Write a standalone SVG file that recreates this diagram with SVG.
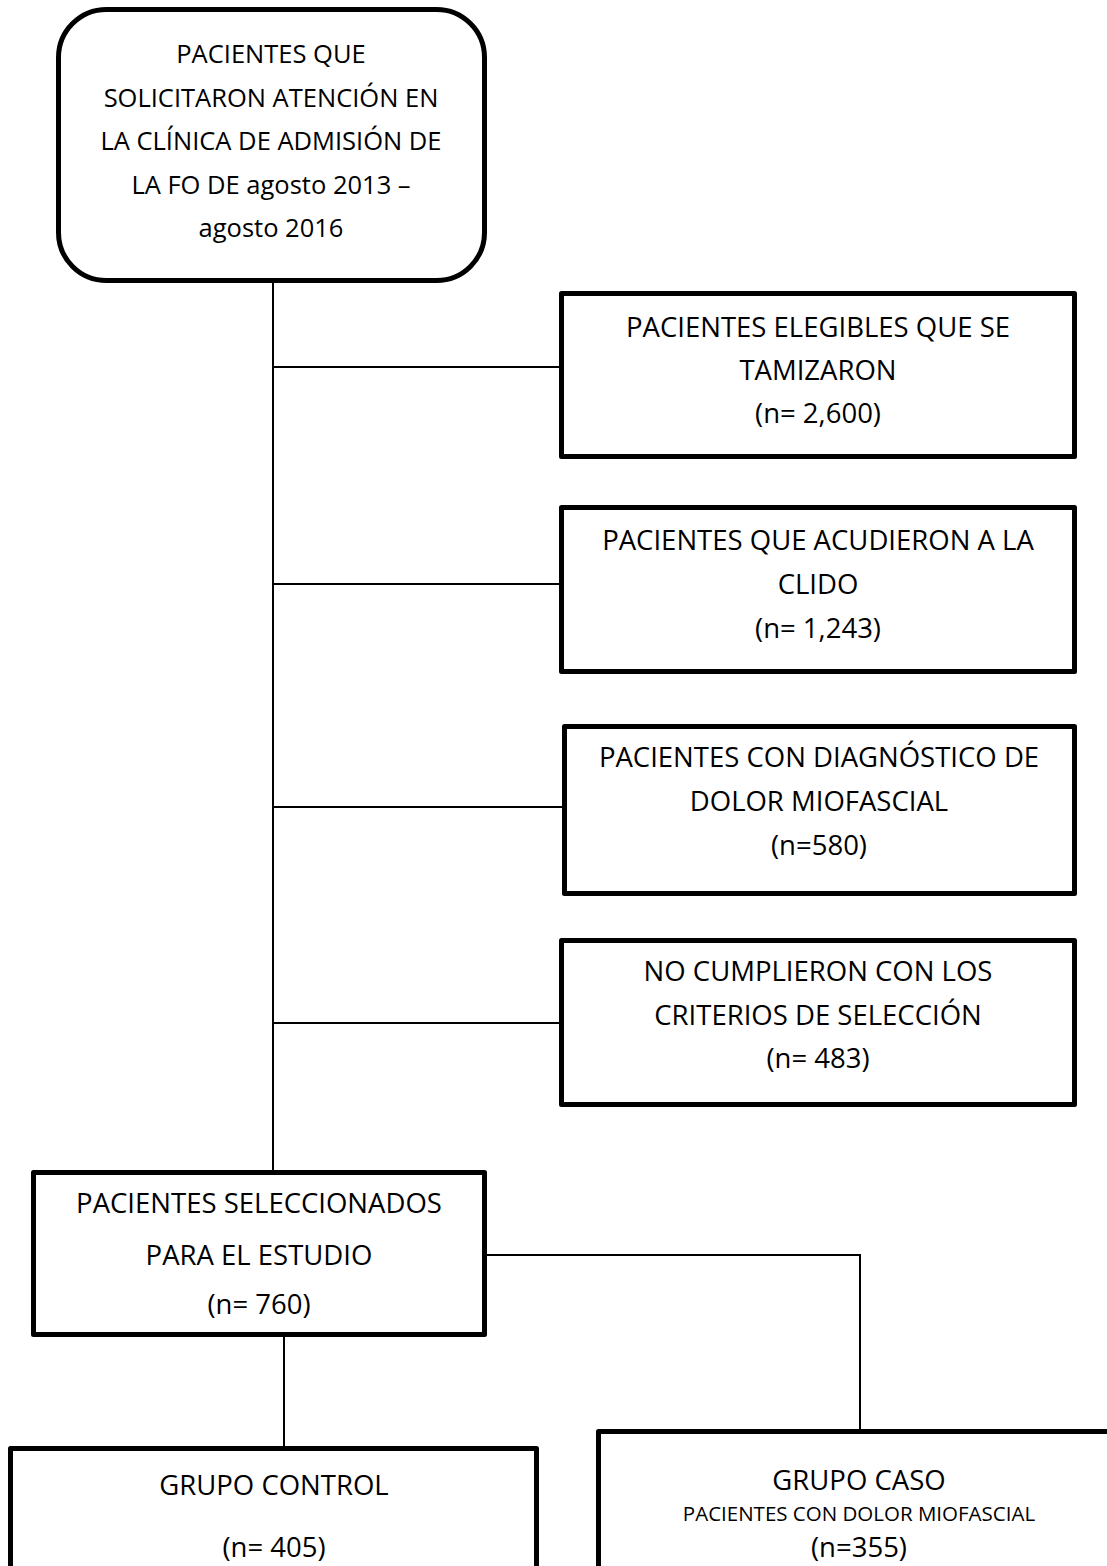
<svg xmlns="http://www.w3.org/2000/svg" width="1107" height="1566" viewBox="0 0 1107 1566">
<style>
.box{fill:#fff;stroke:#000;stroke-width:5;stroke-linejoin:round}
.ln{fill:none;stroke:#000;stroke-width:2}
text{font-family:"Open Sans","Noto Sans",sans-serif;fill:#000;text-anchor:middle}
.t{font-size:27.5px}
.t0{font-size:25.5px}
.ts{font-size:20.5px}
</style>
<rect width="1107" height="1566" fill="#fff"/>
<g id="connectors">
<line class="ln" x1="273" y1="283" x2="273" y2="1170"/>
<line class="ln" x1="273" y1="367" x2="561" y2="367"/>
<line class="ln" x1="273" y1="584" x2="561" y2="584"/>
<line class="ln" x1="273" y1="807" x2="564" y2="807"/>
<line class="ln" x1="273" y1="1023" x2="561" y2="1023"/>
<polyline class="ln" points="484,1255 860,1255 860,1430"/>
<line class="ln" x1="284" y1="1337" x2="284" y2="1446"/>
</g>
<g id="n-start">
<rect class="box" x="58.5" y="9.5" width="426" height="271" rx="48" ry="48"/>
<text class="t0" x="271" y="63">PACIENTES QUE</text>
<text class="t0" x="271" y="106.5">SOLICITARON ATENCIÓN EN</text>
<text class="t0" x="271" y="150">LA CLÍNICA DE ADMISIÓN DE</text>
<text class="t0" x="271" y="193.5">LA FO DE agosto 2013 –</text>
<text class="t0" x="271" y="237">agosto 2016</text>
</g>
<g id="n-elegibles">
<rect class="box" x="561.5" y="293.5" width="513" height="163"/>
<text class="t" x="818" y="337">PACIENTES ELEGIBLES QUE SE</text>
<text class="t" x="818" y="380">TAMIZARON</text>
<text class="t" x="818" y="423">(n= 2,600)</text>
</g>
<g id="n-clido">
<rect class="box" x="561.5" y="507.5" width="513" height="164"/>
<text class="t" x="818" y="550">PACIENTES QUE ACUDIERON A LA</text>
<text class="t" x="818" y="594">CLIDO</text>
<text class="t" x="818" y="638">(n= 1,243)</text>
</g>
<g id="n-diagnostico">
<rect class="box" x="564.5" y="726.5" width="510" height="167"/>
<text class="t" x="819" y="767">PACIENTES CON DIAGNÓSTICO DE</text>
<text class="t" x="819" y="811">DOLOR MIOFASCIAL</text>
<text class="t" x="819" y="855">(n=580)</text>
</g>
<g id="n-nocumplieron">
<rect class="box" x="561.5" y="940.5" width="513" height="164"/>
<text class="t" x="818" y="981">NO CUMPLIERON CON LOS</text>
<text class="t" x="818" y="1025">CRITERIOS DE SELECCIÓN</text>
<text class="t" x="818" y="1068">(n= 483)</text>
</g>
<g id="n-seleccionados">
<rect class="box" x="33.5" y="1172.5" width="451" height="162"/>
<text class="t" x="259" y="1213">PACIENTES SELECCIONADOS</text>
<text class="t" x="259" y="1265">PARA EL ESTUDIO</text>
<text class="t" x="259" y="1314">(n= 760)</text>
</g>
<g id="n-control">
<rect class="box" x="10.5" y="1448.5" width="526" height="140"/>
<text class="t" x="274" y="1495">GRUPO CONTROL</text>
<text class="t" x="274" y="1557">(n= 405)</text>
</g>
<g id="n-caso">
<rect class="box" x="598.5" y="1431.5" width="540" height="160"/>
<text class="t" x="859" y="1490">GRUPO CASO</text>
<text class="ts" x="859" y="1521">PACIENTES CON DOLOR MIOFASCIAL</text>
<text class="t" x="859" y="1557">(n=355)</text>
</g>
</svg>
